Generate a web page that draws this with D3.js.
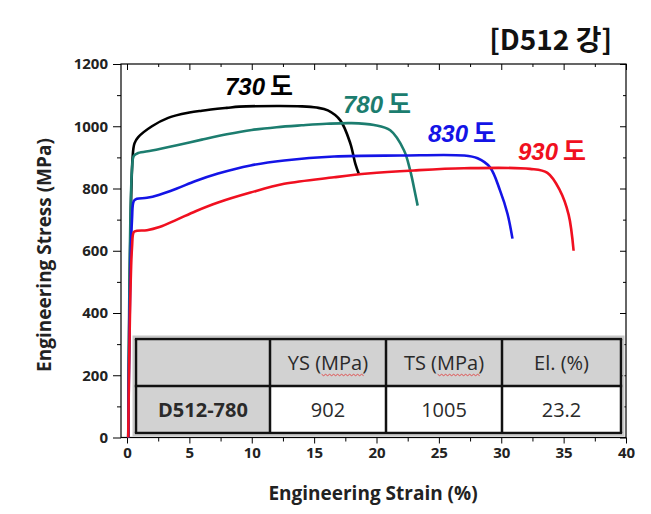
<!DOCTYPE html>
<html>
<head>
<meta charset="utf-8">
<script src="https://cdn.jsdelivr.net/npm/d3@7"></script>
<style>
  body { margin: 0; background: #fff; }
  svg { display: block; }
</style>
</head>
<body>
<script>
var w = 651;
var h = 514;

// stress-strain curves (strain %, stress MPa)
var strain730 = [0.1, 0.45, 0.6, 0.9, 2, 3.3, 5, 6, 8, 9, 12, 14, 15.2, 16.1, 17.1, 17.9, 18.3, 18.6];
var stress730 = [0, 900, 945, 965, 1000, 1027, 1044, 1050, 1059, 1063, 1065, 1064, 1060, 1051, 1019, 945, 880, 845];

var strain780 = [0.1, 0.4, 0.55, 0.9, 2, 4, 6, 8, 10, 12, 14, 16, 18, 19.8, 21.1, 22.2, 22.7, 23.1, 23.3];
var stress780 = [0, 860, 905, 914, 922, 939, 957, 974, 988, 997, 1003, 1008, 1010, 1004, 987, 923, 858, 784, 745];

var strain830 = [0.1, 0.4, 0.55, 0.8, 1.6, 2.6, 4, 5.5, 7.3, 9.9, 12.6, 16.6, 21.9, 27, 28.1, 29.1, 29.9, 30.5, 30.9];
var stress830 = [0, 700, 760, 767, 770, 780, 800, 824, 848, 874, 890, 903, 906, 906, 897, 868, 794, 719, 639];

var strain930 = [0.1, 0.4, 0.55, 0.8, 1.6, 2.6, 4, 5.5, 7.3, 9.9, 12.6, 16.6, 19.3, 23, 27, 32.3, 33.7, 34.7, 35.4, 35.8];
var stress930 = [0, 610, 660, 664, 666, 676, 700, 727, 755, 787, 815, 836, 848, 858, 865, 863, 850, 794, 716, 600];

var seriesNames = ["730", "780", "830", "930"];
var seriesColors = ["#000000", "#1c7d6f", "#1414e6", "#f01020"];

var xTicks = [0, 5, 10, 15, 20, 25, 30, 35, 40];
var yTicks = [0, 200, 400, 600, 800, 1000, 1200];

var tableHead = ["", "YS (MPa)", "TS (MPa)", "El. (%)"];
var tableRow = ["D512-780", "902", "1005", "23.2"];

var svg = d3.select("body").append("svg")
          .attr("width", w)
          .attr("height", h);

// plot frame in pixels
var plotL = 121, plotR = 626, plotT = 64, plotB = 437.5;

var x = d3.scaleLinear().domain([0, 40]).range([127, 626]);
var y = d3.scaleLinear().domain([0, 1200]).range([plotB, plotT]);

var tickFont = "'Open Sans', sans-serif";

var xMinor = d3.range(2.5, 40, 5);
var yMinor = d3.range(100, 1200, 200);

function styleAxis(g) {
  g.select(".domain").remove();
  g.selectAll("line").attr("stroke", "#000").attr("stroke-width", 1);
}

// bottom axis
svg.append("g").attr("transform", "translate(0," + plotB + ")")
   .call(d3.axisBottom(x).tickValues(xTicks).tickSize(6).tickPadding(4).tickFormat(d3.format("d")))
   .call(styleAxis)
   .selectAll("text").attr("font-family", tickFont).attr("font-weight", "bold")
   .attr("font-size", 15).attr("fill", "#222");
svg.append("g").attr("transform", "translate(0," + plotB + ")")
   .call(d3.axisBottom(x).tickValues(xMinor).tickSize(4).tickFormat(""))
   .call(styleAxis);

// top (inward)
svg.append("g").attr("transform", "translate(0," + plotT + ")")
   .call(d3.axisTop(x).tickValues(xTicks).tickSize(-6).tickFormat(""))
   .call(styleAxis);
svg.append("g").attr("transform", "translate(0," + plotT + ")")
   .call(d3.axisTop(x).tickValues(xMinor).tickSize(-3).tickFormat(""))
   .call(styleAxis);

// left axis
svg.append("g").attr("transform", "translate(" + plotL + ",0)")
   .call(d3.axisLeft(y).tickValues(yTicks).tickSize(8).tickPadding(5).tickFormat(d3.format("d")))
   .call(styleAxis)
   .selectAll("text").attr("font-family", tickFont).attr("font-weight", "bold")
   .attr("font-size", 15).attr("fill", "#222");
svg.append("g").attr("transform", "translate(" + plotL + ",0)")
   .call(d3.axisLeft(y).tickValues(yMinor).tickSize(4).tickFormat(""))
   .call(styleAxis);

// right (inward)
svg.append("g").attr("transform", "translate(" + plotR + ",0)")
   .call(d3.axisRight(y).tickValues(yTicks).tickSize(-6).tickFormat(""))
   .call(styleAxis);
svg.append("g").attr("transform", "translate(" + plotR + ",0)")
   .call(d3.axisRight(y).tickValues(yMinor).tickSize(-3).tickFormat(""))
   .call(styleAxis);

// frame
svg.append("rect")
   .attr("x", plotL).attr("y", plotT)
   .attr("width", plotR - plotL).attr("height", plotB - plotT)
   .attr("fill", "none").attr("stroke", "#000").attr("stroke-width", 1.2);

// curves
var allStrain = [strain730, strain780, strain830, strain930];
var allStress = [stress730, stress780, stress830, stress930];

var line = d3.line()
             .x(function(d) { return x(d[0]); })
             .y(function(d) { return y(d[1]); })
             .curve(d3.curveCatmullRom.alpha(0.5));

allStrain.forEach(function(s, i) {
  var pts = s.map(function(v, j) { return [v, allStress[i][j]]; });
  svg.append("path")
     .attr("d", line(pts))
     .attr("fill", "none")
     .attr("stroke", seriesColors[i])
     .attr("stroke-width", 2.6)
     .attr("stroke-linejoin", "round");
});

// curve labels
var labelPos = [[225, 95], [343, 113], [428, 142], [518, 160]];
seriesNames.forEach(function(n, i) {
  var t = svg.append("text")
     .attr("x", labelPos[i][0]).attr("y", labelPos[i][1])
     .attr("fill", seriesColors[i])
     .attr("font-weight", "bold")
     .attr("font-size", 24);
  t.append("tspan").attr("font-family", "'Liberation Sans', Arial, sans-serif")
   .attr("font-style", "italic").text(n);
  t.append("tspan").attr("font-family", "'Noto Sans CJK KR', sans-serif")
   .attr("font-size", 25).attr("dx", 5).text("도");
});

// table overlay
var colX = [136, 270, 386, 502, 621];
var rowY = [339, 386, 433];

var tbl = svg.append("g");
tbl.append("rect")
   .attr("x", colX[0] - 2.5).attr("y", rowY[0] - 2.5)
   .attr("width", colX[4] - colX[0] + 5).attr("height", rowY[2] - rowY[0] + 5)
   .attr("fill", "none").attr("stroke", "#c8c8c8").attr("stroke-width", 2);

tableHead.forEach(function(d, i) {
  tbl.append("rect")
     .attr("x", colX[i]).attr("y", rowY[0])
     .attr("width", colX[i + 1] - colX[i]).attr("height", rowY[1] - rowY[0])
     .attr("fill", "#d2d2d2");
});
tableRow.forEach(function(d, i) {
  tbl.append("rect")
     .attr("x", colX[i]).attr("y", rowY[1])
     .attr("width", colX[i + 1] - colX[i]).attr("height", rowY[2] - rowY[1])
     .attr("fill", i == 0 ? "#d2d2d2" : "#ffffff");
});

colX.forEach(function(cx) {
  tbl.append("line").attr("x1", cx).attr("x2", cx).attr("y1", rowY[0]).attr("y2", rowY[2])
     .attr("stroke", "#111").attr("stroke-width", 2.5);
});
rowY.forEach(function(ry) {
  tbl.append("line").attr("x1", colX[0] - 1.2).attr("x2", colX[4] + 1.2).attr("y1", ry).attr("y2", ry)
     .attr("stroke", "#111").attr("stroke-width", 2.5);
});

var cellFont = "'Open Sans', sans-serif";
tableHead.forEach(function(d, i) {
  if (!d) return;
  var cx = (colX[i] + colX[i + 1]) / 2;
  var t = tbl.append("text")
     .attr("x", cx).attr("y", (rowY[0] + rowY[1]) / 2 + 7)
     .attr("text-anchor", "middle")
     .attr("font-family", cellFont).attr("font-size", 20)
     .attr("fill", "#2a2a2a").text(d);
  // red spell-check squiggle under "MPa"
  if (d.indexOf("MPa") >= 0) {
    var bb = t.node().getBBox();
    var x0 = bb.x + bb.width * 0.42, x1 = bb.x + bb.width * 0.95;
    var yy = (rowY[0] + rowY[1]) / 2 + 12;
    var pts = d3.range(x0, x1, 2).map(function(px, k) { return [px, yy + (k % 2 ? 1.2 : -0.2)]; });
    tbl.append("path").attr("d", d3.line()(pts))
       .attr("fill", "none").attr("stroke", "#e04040").attr("stroke-width", 0.9);
  }
});
tableRow.forEach(function(d, i) {
  var cx = (colX[i] + colX[i + 1]) / 2;
  tbl.append("text")
     .attr("x", cx).attr("y", (rowY[1] + rowY[2]) / 2 + 7)
     .attr("text-anchor", "middle")
     .attr("font-family", cellFont).attr("font-size", 20)
     .attr("font-weight", i == 0 ? "bold" : "normal")
     .attr("fill", "#2a2a2a").text(d);
});

// axis titles
svg.append("text")
   .attr("x", 373).attr("y", 500)
   .attr("text-anchor", "middle")
   .attr("font-family", "'Open Sans', sans-serif").attr("font-weight", "bold")
   .attr("font-size", 19).attr("fill", "#222")
   .text("Engineering Strain (%)");

svg.append("text")
   .attr("transform", "translate(51,255) rotate(-90)")
   .attr("text-anchor", "middle")
   .attr("font-family", "'Open Sans', sans-serif").attr("font-weight", "bold")
   .attr("font-size", 19).attr("fill", "#222")
   .text("Engineering Stress (MPa)");

// title
svg.append("text")
   .attr("x", 612).attr("y", 50)
   .attr("text-anchor", "end")
   .attr("font-family", "'Noto Sans CJK KR', sans-serif").attr("font-weight", "bold")
   .attr("font-size", 28).attr("fill", "#111")
   .text("[D512 강]");
</script>
</body>
</html>
